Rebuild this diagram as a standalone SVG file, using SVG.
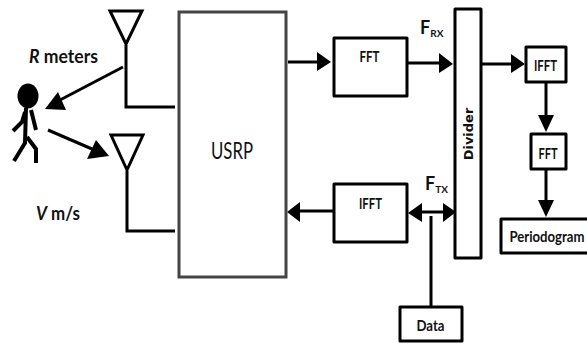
<svg xmlns="http://www.w3.org/2000/svg" width="587" height="344" viewBox="0 0 587 344">
<style>
.b{fill:#fff;stroke:#000;stroke-width:3;stroke-linejoin:round}
.l{fill:none;stroke:#000;stroke-width:3}
.a{fill:#000;stroke:none}
text{font-family:Lato,"Open Sans",sans-serif;fill:#111}
.t{font-size:16px;font-weight:700;text-anchor:middle}
</style>
<rect width="587" height="344" fill="#fff"/>
<g id="connectors">
<path class="l" d="M126 45V107H175"/>
<path class="l" d="M127 171V231H175"/>
<path class="l" d="M123 67L60 100"/><path class="a" d="M45 109L58 92L66 110Z"/>
<path class="l" d="M48 130L92 149"/><path class="a" d="M109 156L87 159L96 140Z"/>
<path class="l" d="M288 62H320"/><path class="a" d="M331 62L317 52V71Z"/>
<path class="l" d="M408 63H442"/><path class="a" d="M453 64L439 53V73Z"/>
<path class="l" d="M481 64H514"/><path class="a" d="M525 64L511 54V73Z"/>
<path class="l" d="M546 82V118"/><path class="a" d="M546 132L538 115H554Z"/>
<path class="l" d="M546 170V205"/><path class="a" d="M546 217L538 200H554Z"/>
<path class="l" d="M333 211H298"/><path class="a" d="M287 212L300 202V222Z"/>
<path class="l" d="M420 212H444"/><path class="a" d="M408 213L422 203V222Z"/><path class="a" d="M456 212L443 203V222Z"/>
<path class="l" d="M431 216V307"/>
</g>
<g id="antenna-rx"><path class="l" d="M110 11H142L126 44Z"/></g>
<g id="antenna-tx"><path class="l" d="M111 135H143L127 170Z"/></g>
<g id="person">
<ellipse cx="28" cy="96" rx="10.500" ry="12.500" fill="#000"/>
<path class="l" style="stroke-width:4" d="M26 108L25 143L14 161M27 137L36 149V163M25 112L22 122L13 131M31 110L36 130"/>
</g>
<g id="usrp"><rect x="179" y="12" width="107" height="265" fill="#fff" stroke="#444" stroke-width="3"/><text x="232" y="159" font-size="24" text-anchor="middle" textLength="42" lengthAdjust="spacingAndGlyphs">USRP</text></g>
<g id="fft1"><rect class="b" x="334" y="38" width="73" height="58"/><text class="t" x="369.500" y="62" textLength="20" lengthAdjust="spacingAndGlyphs">FFT</text></g>
<g id="ifft1"><rect class="b" x="334" y="184" width="73" height="58"/><text class="t" x="370.500" y="209" textLength="23" lengthAdjust="spacingAndGlyphs">IFFT</text></g>
<g id="divider"><rect class="b" x="455" y="9" width="26" height="249"/><text class="t" transform="translate(473 134) rotate(-90)" style="font-family:'DejaVu Sans';font-weight:700;font-size:13px">Divider</text></g>
<g id="ifft2"><rect class="b" x="526" y="47" width="40" height="35"/><text class="t" x="545.500" y="71" textLength="23" lengthAdjust="spacingAndGlyphs">IFFT</text></g>
<g id="fft2"><rect class="b" x="531" y="134" width="35" height="35"/><text class="t" x="548" y="159" textLength="19" lengthAdjust="spacingAndGlyphs">FFT</text></g>
<g id="periodogram"><rect class="b" x="501" y="219" width="90" height="34"/><text class="t" x="547" y="242" textLength="75" lengthAdjust="spacingAndGlyphs">Periodogram</text></g>
<g id="data"><rect class="b" x="400" y="307" width="62" height="34"/><text class="t" x="430.500" y="331" textLength="28" lengthAdjust="spacingAndGlyphs">Data</text></g>
<g id="labels">
<text x="29" y="63" font-size="18" font-weight="700" textLength="69" lengthAdjust="spacingAndGlyphs"><tspan font-style="italic">R</tspan> meters</text>
<text x="36" y="220" font-size="19" font-weight="700" textLength="44" lengthAdjust="spacingAndGlyphs"><tspan font-style="italic">V</tspan> m/s</text>
<text x="420" y="34" font-size="18" font-weight="700">F<tspan font-size="10" dy="3">RX</tspan></text>
<text x="425" y="190" font-size="18" font-weight="700">F<tspan font-size="10" dy="3">TX</tspan></text>
</g>
</svg>
